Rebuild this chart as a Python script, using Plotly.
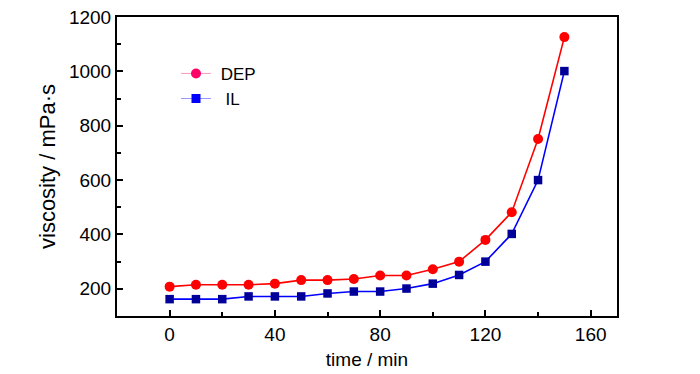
import plotly.graph_objects as go

time_min = [0, 10, 20, 30, 40, 50, 60, 70, 80, 90, 100, 110, 120, 130, 140, 150]
dep_visc = [208, 215, 215, 215, 219, 232, 232, 236, 249, 249, 272, 300, 380, 482, 751, 1126]
il_visc = [162, 162, 162, 172, 172, 172, 183, 190, 190, 201, 219, 251, 300, 402, 600, 1001]
x_ticks = [0, 40, 80, 120, 160]
y_ticks = [200, 400, 600, 800, 1000, 1200]

FONT = "Liberation Sans, Arial, sans-serif"

fig = go.Figure()
fig.add_trace(go.Scatter(
    x=time_min, y=dep_visc, mode="lines+markers", showlegend=False,
    line=dict(color="#ff0000", width=1.6),
    marker=dict(symbol="circle", size=10, color="#ff0000", line=dict(width=0))))
fig.add_trace(go.Scatter(
    x=time_min, y=il_visc, mode="lines+markers", showlegend=False,
    line=dict(color="#0000ff", width=1.6),
    marker=dict(symbol="square", size=8.5, color="#000099", line=dict(width=0))))
# legend entries
fig.add_trace(go.Scatter(
    x=[None], y=[None], mode="lines+markers", name="\u00a0DEP",
    line=dict(color="#ff99bb", width=1),
    marker=dict(symbol="circle", size=10, color="#ff0066")))
fig.add_trace(go.Scatter(
    x=[None], y=[None], mode="lines+markers", name="\u00a0\u00a0IL",
    line=dict(color="#9999ff", width=1),
    marker=dict(symbol="square", size=9, color="#0000ff")))

axis_common = dict(
    showline=True, linecolor="black", linewidth=2, mirror=True,
    ticks="inside", ticklen=6, tickwidth=1.5, tickcolor="black",
    showgrid=False, zeroline=False, automargin=False,
    ticklabeloverflow="allow",
    tickfont=dict(family=FONT, size=19, color="black"),
)

fig.update_xaxes(
    range=[-20, 170], tickvals=x_ticks,
    title=dict(text="time / min", font=dict(family=FONT, size=19, color="black"), standoff=9),
    minor=dict(dtick=20, tick0=0, ticks="inside", ticklen=4, tickwidth=1.5, tickcolor="black"),
    **axis_common)
fig.update_yaxes(
    range=[100, 1200], tickvals=y_ticks,
    title=dict(text="viscosity / mPa·s", font=dict(family=FONT, size=22, color="black"), standoff=7),
    minor=dict(dtick=100, tick0=0, ticks="inside", ticklen=4, tickwidth=1.5, tickcolor="black"),
    **axis_common)

fig.update_layout(
    width=700, height=374,
    margin=dict(l=109, r=91, t=9, b=66),
    paper_bgcolor="white", plot_bgcolor="white",
    font=dict(family=FONT, color="black"),
    legend=dict(x=0.118, y=0.87, xanchor="left", yanchor="top",
                bgcolor="rgba(0,0,0,0)", font=dict(family=FONT, size=17, color="black"),
                itemwidth=30),
)

fig.write_html("out.html")
